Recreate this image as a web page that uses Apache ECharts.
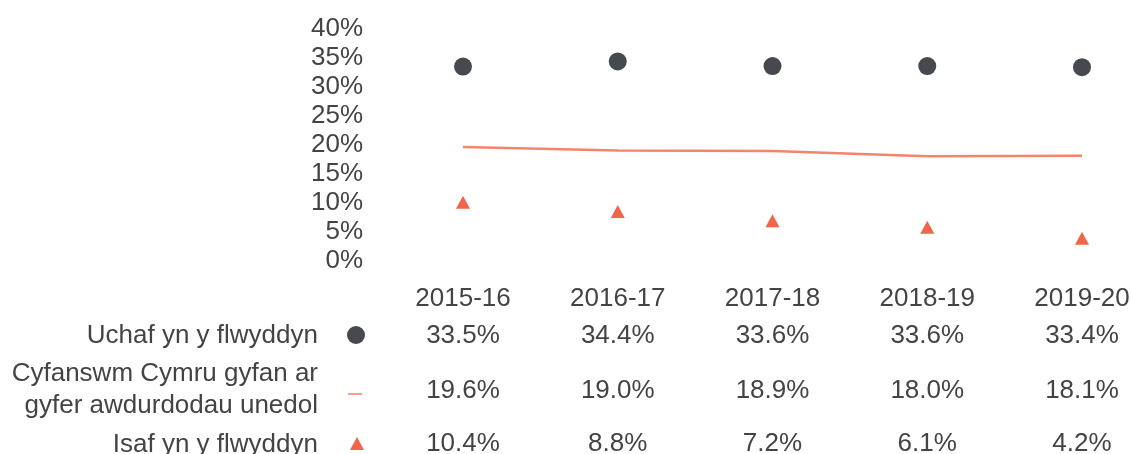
<!DOCTYPE html>
<html>
<head>
<meta charset="utf-8">
<script src="https://cdn.jsdelivr.net/npm/echarts@6/dist/echarts.min.js"></script>
<style>
  html, body { margin: 0; padding: 0; background: #fff; }
  #chart { width: 1131px; height: 454px; }
</style>
</head>
<body>
<div id="chart"></div>
<script>
// blynyddoedd
var years = ['2015-16', '2016-17', '2017-18', '2018-19', '2019-20'];
// enwau'r cyfresi
var seriesNames = ['Uchaf yn y flwyddyn', 'Cyfanswm Cymru gyfan ar\ngyfer awdurdodau unedol', 'Isaf yn y flwyddyn'];
var highest = [33.5, 34.4, 33.6, 33.6, 33.4];
var walesTotal = [19.6, 19.0, 18.9, 18.0, 18.1];
var lowest = [10.4, 8.8, 7.2, 6.1, 4.2];

var textColor = '#444444';
var fontFamily = 'Liberation Sans, Arial, sans-serif';
var fontSize = 26;
var dotColor = '#46494d';
var lineColor = '#f4846d';
var triColor = '#f2654a';

function fmt(v) {
    return v.toFixed(1) + '%';
}

// echel x ychwanegol ar gyfer pob rhes o'r tabl
function tableAxis(values, margin) {
    return {
        type: 'category',
        gridIndex: 0,
        position: 'bottom',
        boundaryGap: false,
        data: values.map(fmt),
        axisLine: { show: false },
        axisTick: { show: false },
        splitLine: { show: false },
        axisLabel: {
            interval: 0,
            margin: margin,
            fontSize: fontSize,
            color: textColor,
            fontFamily: fontFamily
        }
    };
}

function rowLabel(text, y) {
    return {
        type: 'text',
        style: {
            x: 318, y: y,
            text: text,
            fontSize: fontSize,
            lineHeight: 32,
            fill: textColor,
            fontFamily: fontFamily,
            align: 'right',
            verticalAlign: 'middle'
        }
    };
}

var chart = echarts.init(document.getElementById('chart'));
var option = {
    animation: false,
    backgroundColor: '#fff',
    grid: {
        left: 463,
        right: 49,
        top: 29,
        bottom: 193.5,
        outerBoundsMode: 'none',
        containLabel: false
    },
    xAxis: [
        {
            type: 'category',
            boundaryGap: false,
            data: years,
            axisLine: { show: false },
            axisTick: { show: false },
            splitLine: { show: false },
            axisLabel: {
                interval: 0,
                margin: 25,
                fontSize: fontSize,
                color: textColor,
                fontFamily: fontFamily
            }
        },
        tableAxis(highest, 62),
        tableAxis(walesTotal, 117),
        tableAxis(lowest, 170)
    ],
    yAxis: {
        type: 'value',
        min: 0,
        max: 40,
        interval: 5,
        axisLine: { show: false },
        axisTick: { show: false },
        splitLine: { show: false },
        axisLabel: {
            formatter: '{value}%',
            margin: 100,
            fontSize: fontSize,
            color: textColor,
            fontFamily: fontFamily
        }
    },
    series: [
        {
            name: seriesNames[0],
            type: 'scatter',
            data: highest,
            symbol: 'circle',
            symbolSize: 18,
            itemStyle: { color: dotColor, opacity: 1 }
        },
        {
            name: seriesNames[1],
            type: 'line',
            data: walesTotal,
            showSymbol: false,
            lineStyle: { color: lineColor, width: 2.5 },
            itemStyle: { color: lineColor }
        },
        {
            name: seriesNames[2],
            type: 'scatter',
            data: lowest,
            symbol: 'triangle',
            symbolSize: [14, 13],
            symbolOffset: [0, 2],
            itemStyle: { color: triColor, opacity: 1 }
        }
    ],
    graphic: [
        rowLabel(seriesNames[0], 336),
        {
            type: 'circle', shape: { cx: 356, cy: 335, r: 9 },
            style: { fill: dotColor }
        },
        rowLabel(seriesNames[1], 390),
        {
            type: 'line', shape: { x1: 348, y1: 394, x2: 362, y2: 394 },
            style: { stroke: '#f7a08e', lineWidth: 2 }
        },
        rowLabel(seriesNames[2], 445),
        {
            type: 'polygon', shape: { points: [[357, 437], [364, 450], [350, 450]] },
            style: { fill: triColor }
        }
    ]
};
chart.setOption(option);
</script>
</body>
</html>
